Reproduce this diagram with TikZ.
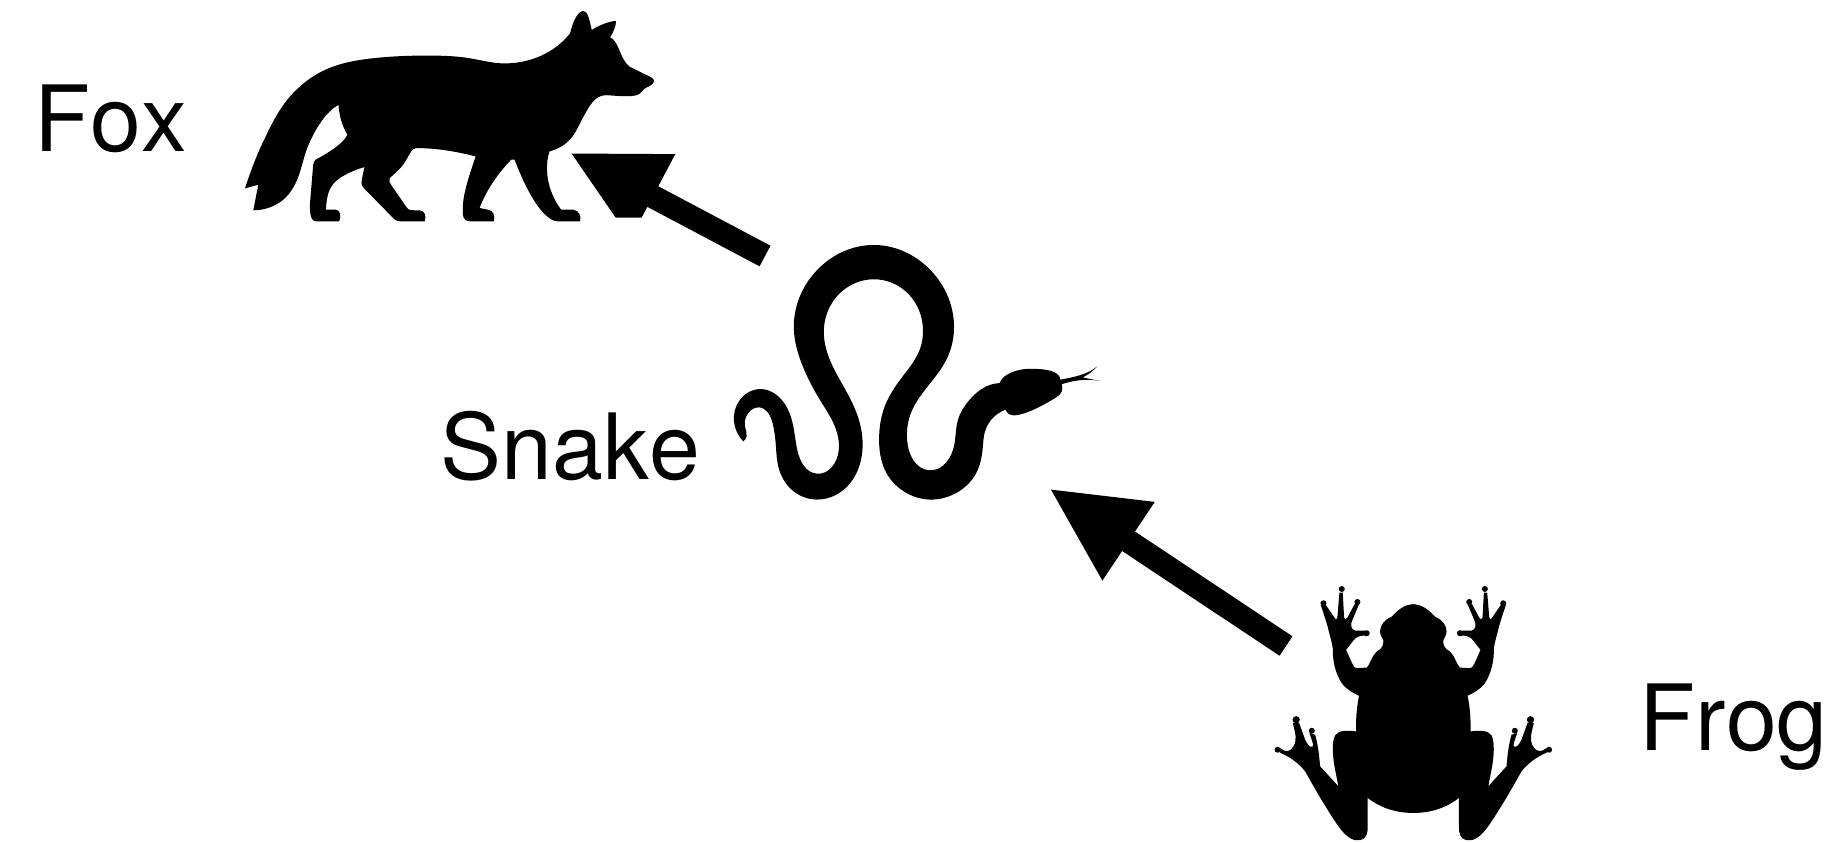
\documentclass[tikz,border=0pt]{standalone}
\usepackage{fontspec}
\setmainfont[Kerning=Off]{TeX Gyre Heros}
\usetikzlibrary{arrows.meta, hobby}
\tikzset{
  silcurve/.style={hobby},
  animal/.style={inner sep=0pt, anchor=base west, font=\fontsize{26}{26}\selectfont},
  traced/.style={x=0.003333cm, y=-0.003333cm}
}
\begin{document}
\begin{tikzpicture}[x=0.01cm, y=-0.01cm,
    foxarr/.style={line width=2.33mm, -{Triangle[length=9.4mm, width=8.85mm, sep=0pt]}},
    frogarr/.style={line width=2.33mm, -{Triangle[length=9.55mm, width=8.7mm, sep=0pt]}}
  ]
  \useasboundingbox (0,0) rectangle (1840,842);

  % fox
  \begin{scope}[shift={(230,0)}, traced]
    \fill (45,566) .. controls (60,520) and (80,465) .. (105,415) .. controls (135,350) and (165,300) .. (205,265)
      -- plot[silcurve] coordinates {(205,265) (290,208) (430,175) (600,167) (720,175) (810,190) (880,185) (950,160) (1022,100)}
      .. controls (1030,65) and (1045,33) .. (1062,33) .. controls (1075,33) and (1080,60) .. (1087,90)
      .. controls (1105,78) and (1140,63) .. (1160,63) .. controls (1160,80) and (1150,100) .. (1142,112)
      .. controls (1170,125) and (1170,175) .. (1200,200)
      -- (1265,232) .. controls (1280,240) and (1275,250) .. (1262,258)
      .. controls (1245,265) and (1240,270) .. (1235,278) .. controls (1222,295) and (1170,288) .. (1130,286)
      .. controls (1095,286) and (1080,320) .. (1065,345) .. controls (1040,390) and (1030,435) .. (960,455)
      .. controls (945,500) and (950,570) .. (995,630)
      -- (1030,630) .. controls (1050,632) and (1056,650) .. (1052,665)
      -- (985,665) .. controls (955,665) and (920,620) .. (890,560) .. controls (875,530) and (865,505) .. (855,480) -- (845,480)
      .. controls (810,515) and (770,570) .. (750,625)
      -- (775,630) .. controls (792,632) and (797,650) .. (793,665)
      -- (720,665) .. controls (700,665) and (698,650) .. (700,615) .. controls (703,570) and (725,510) .. (738,470)
      .. controls (680,455) and (620,445) .. (560,445) .. controls (545,445) and (545,458) .. (520,495)
      .. controls (505,515) and (490,525) .. (480,535) .. controls (476,542) and (480,550) .. (485,557)
      -- (530,622) .. controls (535,632) and (545,632) .. (555,632)
      -- (570,632) .. controls (587,634) and (590,650) .. (585,665)
      -- (510,665) .. controls (500,665) and (495,660) .. (490,655) -- (402,565)
      .. controls (392,555) and (395,545) .. (397,535) -- (404,502)
      .. controls (360,515) and (320,535) .. (305,560) .. controls (292,580) and (290,605) .. (288,630)
      -- (318,630) .. controls (332,632) and (335,650) .. (328,665)
      -- (258,665) .. controls (245,665) and (240,650) .. (240,615)
      -- (250,495) .. controls (252,480) and (260,478) .. (270,473)
      .. controls (305,453) and (340,430) .. (353,405) .. controls (335,375) and (328,345) .. (326,315)
      .. controls (290,335) and (255,385) .. (230,450) .. controls (210,510) and (210,540) .. (175,585)
      .. controls (150,615) and (110,632) .. (70,632) -- (85,555) -- cycle;
  \end{scope}

  % snake
  \begin{scope}[shift={(720,230)}, traced]
    \fill plot[silcurve] coordinates {(70,635) (42,575) (60,510) (125,478) (185,510) (218,580) (232,660) (290,732) (357,660) (345,590) (300,510) (245,400) (222,300) (292,120) (462,45) (632,120) (703,300) (680,390) (620,475) (570,560) (562,630) (630,722) (705,640) (715,570) (750,510) (800,470) (840,460)}
      .. controls (850,430) and (900,417) .. (930,417) .. controls (970,417) and (1020,420) .. (1023,450)
      .. controls (1060,442) and (1105,435) .. (1133,410) .. controls (1120,425) and (1105,435) .. (1090,443)
      -- (1143,454) .. controls (1100,445) and (1060,453) .. (1027,463)
      .. controls (1030,480) and (1030,490) .. (1010,503) .. controls (975,525) and (920,555) .. (885,557)
      .. controls (870,557) and (862,550) .. (858,540)
      -- plot[silcurve] coordinates {(858,540) (815,570) (795,610) (790,650) (770,730) (710,790) (630,810) (560,790) (500,730) (478,630) (495,530) (545,445) (600,360) (610,300) (567,193) (462,148) (357,193) (312,300) (330,390) (385,495) (420,580) (428,660) (405,740) (350,795) (290,810) (215,780) (175,710) (168,650) (158,580) (118,533) (85,550) (75,590) (80,620) (70,635)}
      -- cycle;
  \end{scope}

  % frog, one half and its mirror image
  \foreach \side in {1,-1} {
    \begin{scope}[shift={(1413.3,570)}, x=\side*0.003333cm, y=-0.003333cm]
      \fill (-6,103) -- (0,103) .. controls (30,103) and (50,125) .. (65,140) .. controls (85,148) and (100,165) .. (100,185)
        .. controls (100,195) and (92,205) .. (90,212) .. controls (90,225) and (92,235) .. (110,245)
        .. controls (125,258) and (130,285) .. (140,293) -- (168,295) .. controls (180,295) and (180,285) .. (185,278) -- (202,240)
        -- (180,212) .. controls (172,200) and (160,198) .. (150,197) -- (140,198) -- (140,182)
        -- (175,182) .. controls (188,178) and (190,165) .. (183,150) -- (162,100) -- (176,102)
        -- (198,143) .. controls (202,150) and (206,150) .. (208,143) -- (212,68) -- (222,68)
        -- (228,140) .. controls (230,150) and (233,150) .. (237,143) -- (263,105) -- (278,105)
        .. controls (270,130) and (258,165) .. (255,180) .. controls (250,200) and (245,215) .. (242,235)
        .. controls (243,270) and (235,310) .. (215,340) .. controls (200,360) and (180,370) .. (163,378)
        .. controls (170,410) and (173,450) .. (172,485) .. controls (195,482) and (225,480) .. (235,497)
        .. controls (245,515) and (243,560) .. (235,600) -- (225,650) -- (280,590)
        .. controls (283,560) and (285,530) .. (295,495) -- (312,490)
        .. controls (308,505) and (298,525) .. (302,530) .. controls (310,535) and (318,525) .. (325,510) -- (343,460) -- (362,460)
        .. controls (355,490) and (348,510) .. (360,530) .. controls (370,548) and (385,548) .. (400,535) -- (402,548)
        .. controls (370,562) and (345,580) .. (325,605) .. controls (300,650) and (260,720) .. (225,770)
        .. controls (200,805) and (180,815) .. (160,812) .. controls (140,808) and (137,790) .. (137,770)
        -- (137,685) .. controls (105,710) and (60,730) .. (0,730) -- (-6,730) -- cycle;
      \foreach \tipx/\tipy/\tipr in {168/96/9, 215/57/9, 270/100/9, 140/190/9, 305/483/9, 352/450/11, 408/540/9}
        \fill (\tipx,\tipy) circle (\tipr);
    \end{scope}
  }

  \node[animal] (fox) at (34,151) {Fox};
  \node[animal] (snake) at (440,479) {Snake};
  \node[animal] (frog) at (1639,750) {Frog};

  \coordinate (snakeout) at (765,256);
  \coordinate (foxin) at (569.7,152.5);
  \coordinate (frogout) at (1286,646);
  \coordinate (snakein) at (1049,488.3);

  \draw[foxarr] (snakeout) -- (foxin);
  \draw[frogarr] (frogout) -- (snakein);
  % lower wing of the head is cut off flat
  \fill[white] (605,217.7) -- (655,217.7) -- (630,245) -- cycle;
\end{tikzpicture}
\end{document}
